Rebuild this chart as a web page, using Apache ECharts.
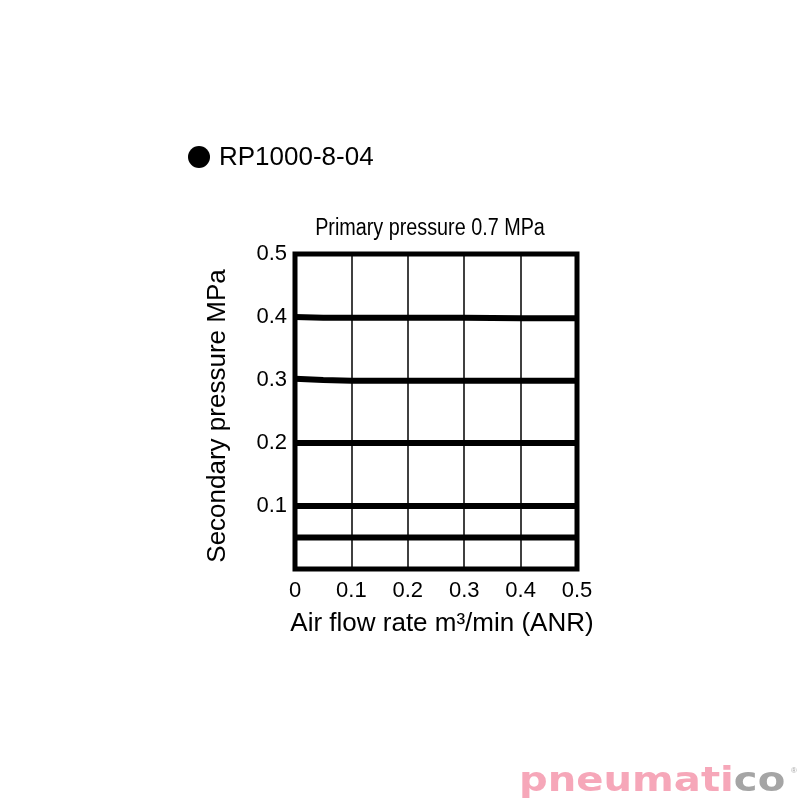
<!DOCTYPE html>
<html><head><meta charset="utf-8">
<script src="https://cdn.jsdelivr.net/npm/echarts@6/dist/echarts.min.js"></script>
<style>html,body{margin:0;padding:0;background:#fff}#c{width:800px;height:800px}</style>
</head><body><div id="c"></div>
<script>
const flowX = [0, 0.05, 0.1, 0.2, 0.3, 0.4, 0.5];
const set040 = [0.400, 0.399, 0.399, 0.399, 0.399, 0.398, 0.398];
const set030 = [0.302, 0.300, 0.299, 0.299, 0.299, 0.299, 0.299];
const set020 = [0.200, 0.200, 0.200, 0.200, 0.200, 0.200, 0.200];
const set010 = [0.100, 0.100, 0.100, 0.100, 0.100, 0.100, 0.100];
const set005 = [0.050, 0.050, 0.050, 0.050, 0.050, 0.050, 0.050];
const xTicks = ['0', '0.1', '0.2', '0.3', '0.4', '0.5'];
const yTicks = ['', '0.1', '0.2', '0.3', '0.4', '0.5'];
const sets = [set040, set030, set020, set010, set005];

const chart = echarts.init(document.getElementById('c'), null, {renderer: 'canvas'});
const font = 'Liberation Sans, Arial, sans-serif';
chart.setOption({
  animation: false,
  backgroundColor: '#fff',
  grid: {left: 295, right: 223, top: 254, bottom: 231, show: true, borderColor: '#000', borderWidth: 5, backgroundColor: 'transparent'},
  xAxis: {
    type: 'value', min: 0, max: 0.5, interval: 0.1,
    axisLine: {show: false}, axisTick: {show: false},
    axisLabel: {margin: 11, fontFamily: font, fontSize: 22, color: '#000',
      formatter: v => xTicks[Math.round(v * 10)]},
    splitLine: {show: true, lineStyle: {color: '#000', width: 1.5}}
  },
  yAxis: {
    type: 'value', min: 0, max: 0.5, interval: 0.1,
    axisLine: {show: false}, axisTick: {show: false},
    axisLabel: {margin: 8, fontFamily: font, fontSize: 22, color: '#000',
      formatter: v => yTicks[Math.round(v * 10)]},
    splitLine: {show: false}
  },
  series: sets.map(s => ({
    type: 'line', symbol: 'none', silent: true,
    lineStyle: {color: '#000', width: 6},
    data: flowX.map((x, i) => [x, s[i]])
  })),
  graphic: [
    {type: 'text', x: 430, y: 229, scaleX: 0.86,
      style: {text: 'Primary pressure 0.7 MPa', fontFamily: font, fontSize: 23, fill: '#000', align: 'center', verticalAlign: 'middle'}},
    {type: 'text', x: 218, y: 416, rotation: Math.PI / 2,
      style: {text: 'Secondary pressure MPa', fontFamily: font, fontSize: 26, fill: '#000', align: 'center', verticalAlign: 'middle'}},
    {type: 'text', x: 442, y: 624,
      style: {text: 'Air flow rate m³/min (ANR)', fontFamily: font, fontSize: 26, fill: '#000', align: 'center', verticalAlign: 'middle'}},
    {type: 'circle', shape: {cx: 199, cy: 157, r: 11}, style: {fill: '#000'}},
    {type: 'text', x: 219, y: 158, style: {text: 'RP1000-8-04', fontFamily: font, fontSize: 26, fill: '#000', verticalAlign: 'middle'}},
    {type: 'text', x: 519, y: 782, scaleX: 1.18,
      style: {text: '{p|pneumati}{g|co}', verticalAlign: 'middle',
        rich: {p: {fontFamily: 'DejaVu Sans, sans-serif', fontWeight: 'bold', fontSize: 34, fill: '#f6a7b9'},
               g: {fontFamily: 'DejaVu Sans, sans-serif', fontWeight: 'bold', fontSize: 34, fill: '#a5a5a5'}}}},
    {type: 'text', x: 791, y: 771, style: {text: '®', fontFamily: font, fontSize: 8, fill: '#a7a7a7', verticalAlign: 'middle'}}
  ]
});
</script></body></html>
